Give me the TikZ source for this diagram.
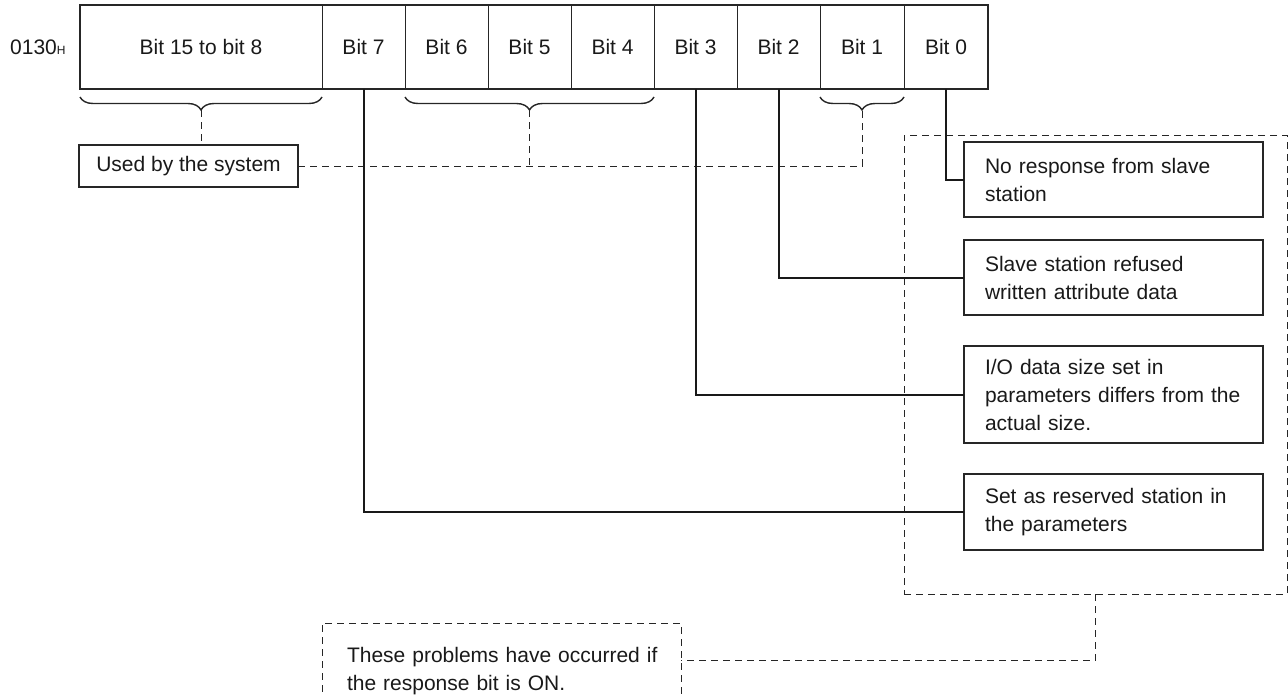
\documentclass[tikz,border=0pt]{standalone}
\usepackage{fontspec}
\setmainfont{Liberation Sans}
\usetikzlibrary{calc,decorations.pathreplacing}
\newcommand\keepline[1]{\mbox{#1}}
\begin{document}
\begin{tikzpicture}[
  x=0.5pt, y=-0.5pt,
  every node/.style={font=\fontsize{10.5}{14}\selectfont, text=black!90},
  cell/.style={draw=black!85, line width=0.5pt, minimum height=42pt, inner sep=0pt,
               outer sep=0pt, anchor=west},
  bitcell/.style={cell, minimum width=41.5pt},
  widecell/.style={cell, minimum width=42pt},
  regframe/.style={draw=black!85, line width=0.9pt},
  wire/.style={draw=black!90, line width=1pt},
  msgbox/.style={draw=black!85, line width=0.8pt, text width=128.5pt, inner xsep=10.5pt,
                 inner ysep=2pt, outer sep=0pt, align=left},
  dashline/.style={draw=black!85, line width=0.5pt, dash pattern=on 3.5pt off 2.5pt},
  bracket/.style={draw=black!85, line width=0.7pt, decorate,
                  decoration={brace, mirror, amplitude=6.5pt}},
]
\useasboundingbox (0,0) rectangle (1288,696);
\clip (0,0) rectangle (1288,696);

% register 0130H
\node[cell, minimum width=121pt] (c15) at (80,47) {Bit 15 to bit 8};
\node[bitcell] (c7) at (c15.east) {Bit 7};
\node[bitcell] (c6) at (c7.east) {Bit 6};
\node[bitcell] (c5) at (c6.east) {Bit 5};
\node[bitcell] (c4) at (c5.east) {Bit 4};
\node[bitcell] (c3) at (c4.east) {Bit 3};
\node[bitcell] (c2) at (c3.east) {Bit 2};
\node[widecell] (c1) at (c2.east) {Bit 1};
\node[widecell] (c0) at (c1.east) {Bit 0};
\draw[regframe] (c15.north west) rectangle (c0.south east);
\node[anchor=east, inner sep=0pt, xshift=-7pt] (addr) at (c15.west)
  {0130{\fontsize{6}{7}\selectfont H}};

% braces over the system bits
\draw[bracket] ([yshift=-4pt]c15.south west) -- ([yshift=-4pt]c15.south east);
\draw[bracket] ([yshift=-4pt]c6.south west) -- ([yshift=-4pt]c4.south east);
\draw[bracket] ([yshift=-4pt]c1.south west) -- ([yshift=-4pt]c1.south east);
\coordinate (t15) at ([yshift=-10.5pt]c15.south);
\coordinate (t64) at ($(c6.south)!0.5!(c4.south)+(0,21)$);
\coordinate (t1) at ([yshift=-10.5pt]c1.south);

\node[draw=black!85, line width=0.7pt, minimum width=109.5pt, minimum height=21pt,
      inner sep=0pt, outer sep=0pt] (sys) at (188.5,166) {Used by the system};
\draw[dashline] (t15) -- (t15 |- sys.north);
\draw[dashline] (t64) -- (t64 |- sys.east);
\draw[dashline] (sys.east) -| (t1);

% error group
\node[dashline, minimum width=191.5pt, minimum height=229.5pt, inner sep=0pt, outer sep=0pt]
  (grp) at (1095.5,364.5) {};
\node[msgbox, minimum height=37.5pt] (b1) at (1113.5,179.5)
  {\keepline{No response from slave}\\\keepline{station}};
\node[msgbox, minimum height=37.5pt] (b2) at (1113.5,277.5)
  {\keepline{Slave station refused}\\\keepline{written attribute data}};
\node[msgbox, minimum height=48.5pt] (b3) at (1113.5,394.5)
  {\keepline{I/O data size set in}\\\keepline{parameters differs from the}\\\keepline{actual size.}};
\node[msgbox, minimum height=38pt] (b4) at (1113.5,512)
  {\keepline{Set as reserved station in}\\\keepline{the parameters}};

\draw[wire] (c0.south) |- (b1.west);
\draw[wire] (c2.south) |- (b2.west);
\draw[wire] (c3.south) |- (b3.west);
\draw[wire] (c7.south) |- (b4.west);

% note
\node[dashline, anchor=north, text width=154.5pt, inner xsep=12.5pt, inner ysep=12pt,
      outer sep=0pt, align=left] (note) at (501.5,623)
  {\keepline{These problems have occurred if}\\\keepline{the response bit is ON.}};
\coordinate (lvl) at (0,660);
\draw[dashline] (grp.south) |- (note.east |- lvl);
\end{tikzpicture}
\end{document}
